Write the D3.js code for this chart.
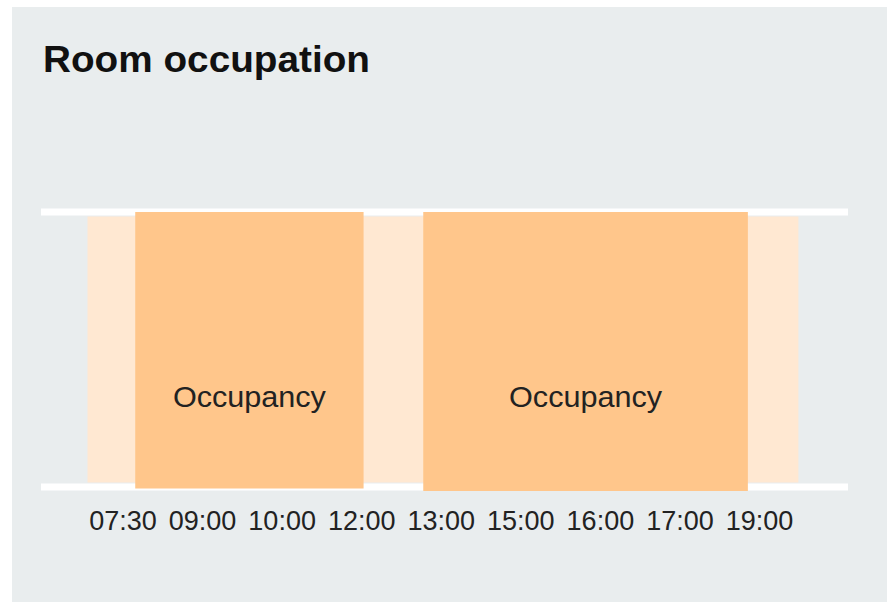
<!DOCTYPE html>
<html>
<head>
<meta charset="utf-8">
<script src="https://cdn.jsdelivr.net/npm/d3@7"></script>
<style>
  html, body { margin: 0; padding: 0; background: #ffffff; }
  svg { display: block; }
</style>
</head>
<body>
<svg id="chart" width="887" height="602"></svg>
<script>
// ---- data ----
const title = "Room occupation";
const tickLabels = ["07:30", "09:00", "10:00", "12:00", "13:00", "15:00", "16:00", "17:00", "19:00"];
const tickHours  = [7.5, 9, 10, 12, 13, 15, 16, 17, 19];
const scheduleWindow = [6.84, 19.99];            // light background span (hours)
const occupancyLabels = ["Occupancy", "Occupancy"];
const occupancyStart  = [7.74, 12.78];           // hours
const occupancyEnd    = [12.03, 18.72];          // hours

// ---- layout ----
const W = 887, H = 602;
const svg = d3.select("#chart");

svg.append("rect").attr("x", 12).attr("y", 7).attr("width", W - 12).attr("height", H - 7)
  .attr("fill", "#e9edee");

svg.append("text").attr("x", 43).attr("y", 72)
  .attr("font-family", "Liberation Sans, Arial, sans-serif")
  .attr("font-weight", "bold").attr("font-size", 36).attr("fill", "#111")
  .attr("textLength", 327).attr("lengthAdjust", "spacingAndGlyphs")
  .text(title);

// piecewise time scale: evenly spaced tick labels
const xPoint = d3.scalePoint().domain(tickLabels).range([122.5, 759]);
const x = d3.scaleLinear().domain(tickHours).range(tickLabels.map(l => xPoint(l)));

const laneTop = 212, laneBottom = 487;

// background window
svg.append("rect")
  .attr("x", x(scheduleWindow[0])).attr("y", laneTop + 4.5)
  .attr("width", x(scheduleWindow[1]) - x(scheduleWindow[0]))
  .attr("height", (laneBottom - 4.5) - (laneTop + 4.5))
  .attr("fill", "#ffe8d2");

// white rails
[laneTop, laneBottom].forEach(yy => {
  svg.append("line").attr("x1", 41).attr("x2", 848).attr("y1", yy).attr("y2", yy)
    .attr("stroke", "#ffffff").attr("stroke-width", 7);
});

// occupancy blocks
const occ = occupancyStart.map((s, i) => ({ s, e: occupancyEnd[i], label: occupancyLabels[i] }));
const bottoms = [488.5, 491];
svg.selectAll("rect.occ").data(occ).enter().append("rect").attr("class", "occ")
  .attr("x", d => x(d.s)).attr("y", laneTop)
  .attr("width", d => x(d.e) - x(d.s))
  .attr("height", (d, i) => bottoms[i] - laneTop)
  .attr("fill", "#ffc68b");

svg.selectAll("text.occ").data(occ).enter().append("text").attr("class", "occ")
  .attr("x", d => (x(d.s) + x(d.e)) / 2).attr("y", 407)
  .attr("text-anchor", "middle")
  .attr("font-family", "Liberation Sans, Arial, sans-serif")
  .attr("font-size", 30).attr("fill", "#222")
  .attr("textLength", 153).attr("lengthAdjust", "spacingAndGlyphs")
  .text(d => d.label);

// axis
const axis = d3.axisBottom(xPoint).tickSize(0).tickPadding(0);
const g = svg.append("g").attr("transform", "translate(0,508)").call(axis);
g.select(".domain").remove();
g.selectAll("text")
  .attr("font-family", "Liberation Sans, Arial, sans-serif")
  .attr("font-size", 27).attr("fill", "#222")
  .attr("dy", "0.8em");
</script>
</body>
</html>
